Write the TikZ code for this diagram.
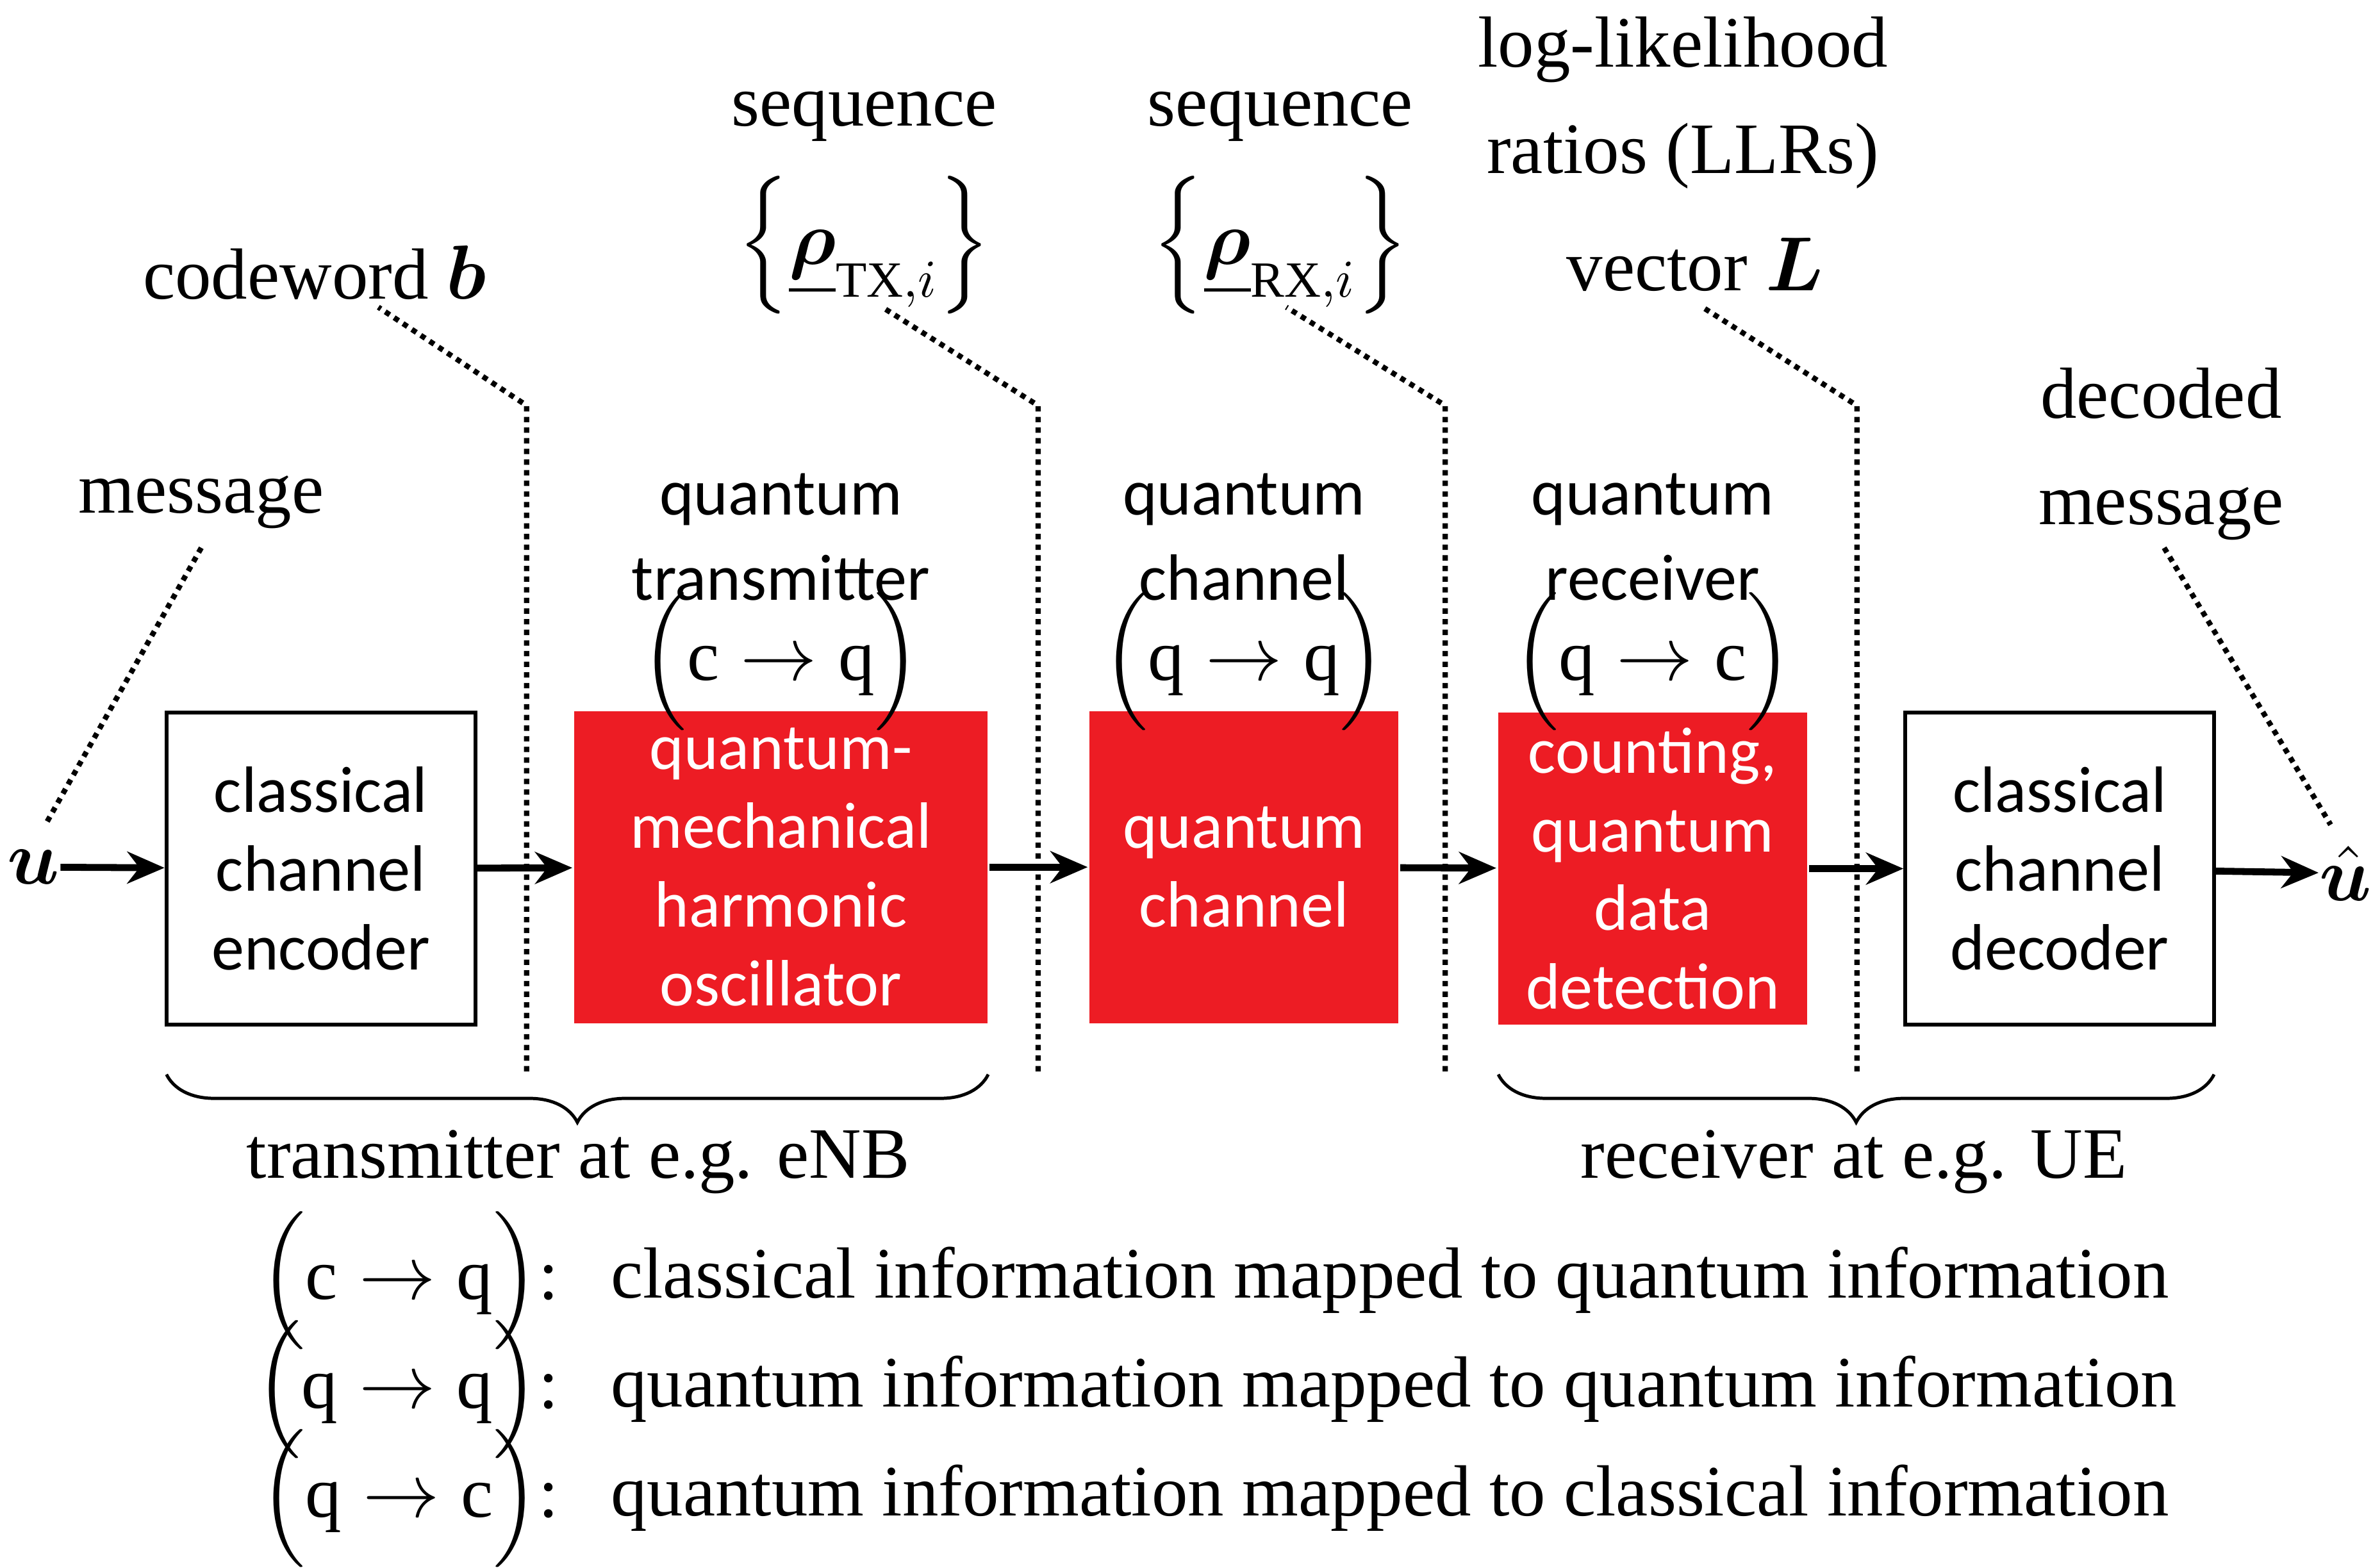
\documentclass[tikz,border=0pt]{standalone}
\usepackage{fontspec}
\usepackage{amsmath,bm}
\setmainfont{Liberation Serif}
\newfontfamily\boxfont{Carlito}
\usetikzlibrary{decorations.pathreplacing,arrows.meta}
\definecolor{qred}{HTML}{ED1C24}
\newcommand{\mapto}[2]{\Bigl(\mathrm{#1}\rightarrow\mathrm{#2}\Bigr)}

\begin{document}
\begin{tikzpicture}[x=0.01cm, y=-0.01cm,
  lbl/.style={font=\fontsize{13.6}{16}\selectfont, align=center, inner sep=0pt},
  blk/.style={draw, line width=0.7pt, minimum width=2.04cm, minimum height=2.06cm, align=center,
    font=\boxfont\fontsize{12.3}{14.8}\selectfont, inner sep=0pt},
  qblk/.style={blk, draw=none, fill=qred, text=white},
  sig/.style={line width=1.3pt, -{Stealth[length=7pt,width=6pt]}},
  dots/.style={densely dotted, line width=1pt},
  brc/.style={decorate, decoration={brace, amplitude=9pt}, line width=0.6pt}]
\useasboundingbox (0,0) rectangle (1568,1036);

% blocks
\node[blk]  (enc) at (212,574) {classical\\channel\\encoder};
\node[qblk, minimum width=2.73cm] (tx) at (516,573) {quantum-\\mechanical\\harmonic\\oscillator};
\node[qblk] (ch) at (822,573) {quantum\\channel};
\node[qblk] (rx) at (1092,574) {counting,\\quantum\\data\\detection};
\node[blk]  (dec) at (1361,574) {classical\\channel\\decoder};
\node[lbl, font=\fontsize{15}{15}\selectfont] (u) at (22,573) {$\bm{u}$};
\node[lbl, font=\fontsize{15}{15}\selectfont] (uh) at (1550,577) {$\hat{\bm{u}}$};

% signal flow
\draw[sig] (u) -- (enc);
\draw[sig] (enc) -- (tx);
\draw[sig] (tx) -- (ch);
\draw[sig] (ch) -- (rx);
\draw[sig] (rx) -- (dec);
\draw[sig] (dec) -- (uh);

% block labels
\node[lbl, font=\boxfont\fontsize{12.3}{15}\selectfont] (txl) at (516,355) {quantum\\[1pt]transmitter};
\node[lbl] (txm) at (516,437) {$\mapto{c}{q}$};
\node[lbl, font=\boxfont\fontsize{12.3}{15}\selectfont] (chl) at (822,355) {quantum\\[1pt]channel};
\node[lbl] (chm) at (822,437) {$\mapto{q}{q}$};
\node[lbl, font=\boxfont\fontsize{12.3}{15}\selectfont] (rxl) at (1092,355) {quantum\\[1pt]receiver};
\node[lbl] (rxm) at (1092,437) {$\mapto{q}{c}$};

% taps
\coordinate (t1) at (348,268); \coordinate (b1) at (348,708);
\coordinate (t2) at (686,268); \coordinate (b2) at (686,708);
\coordinate (t3) at (955,268); \coordinate (b3) at (955,708);
\coordinate (t4) at (1227,268); \coordinate (b4) at (1227,708);
\node[lbl] (cw) at (208,180) {codeword $\bm{b}$};
\node[lbl] (sq1) at (571,77) {sequence};
\node[lbl] (rt) at (571,162) {$\left\{\underline{\bm{\rho}}_{\mathrm{TX},i}\right\}$};
\node[lbl] (sq2) at (846,77) {sequence};
\node[lbl] (rr) at (846,162) {$\left\{\underline{\bm{\rho}}_{\mathrm{RX},i}\right\}$};
\node[lbl] (llr) at (1112,68) {log-likelihood\\[4pt]ratios (LLRs)};
\node[lbl] (vl) at (1120,175) {vector $\bm{L}$};
\node[lbl] (msg) at (133,332) {message};
\node[lbl] (dm) at (1428,300) {decoded\\[4pt]message};
\draw[dots] (b1) -- (t1) -- (250,203);
\draw[dots] (b2) -- (t2) -- (583,203);
\draw[dots] (b3) -- (t3) -- (850,203);
\draw[dots] (b4) -- (t4) -- (1125,203);
\draw[dots] (133,362) -- (30,545);
\draw[dots] (1430,362) -- (1540,545);

% braces
\draw[brc] (653,710) -- (110,710);
\draw[brc] (1463,710) -- (990,710);
\node[lbl] (tnb) at (382,768) {transmitter at e.g. eNB};
\node[lbl] (rue) at (1225,768) {receiver at e.g. UE};

% legend
\foreach \y/\a/\b/\t in {846/c/q/classical information mapped to quantum information,
                      918/q/q/quantum information mapped to quantum information,
                      990/q/c/quantum information mapped to classical information}{
  \node[lbl, anchor=east] (k\y) at (370,\y) {$\mapto{\a}{\b}$:};
  \node[lbl, anchor=west] (d\y) at (403,\y) {\t};
}
\end{tikzpicture}
\end{document}
